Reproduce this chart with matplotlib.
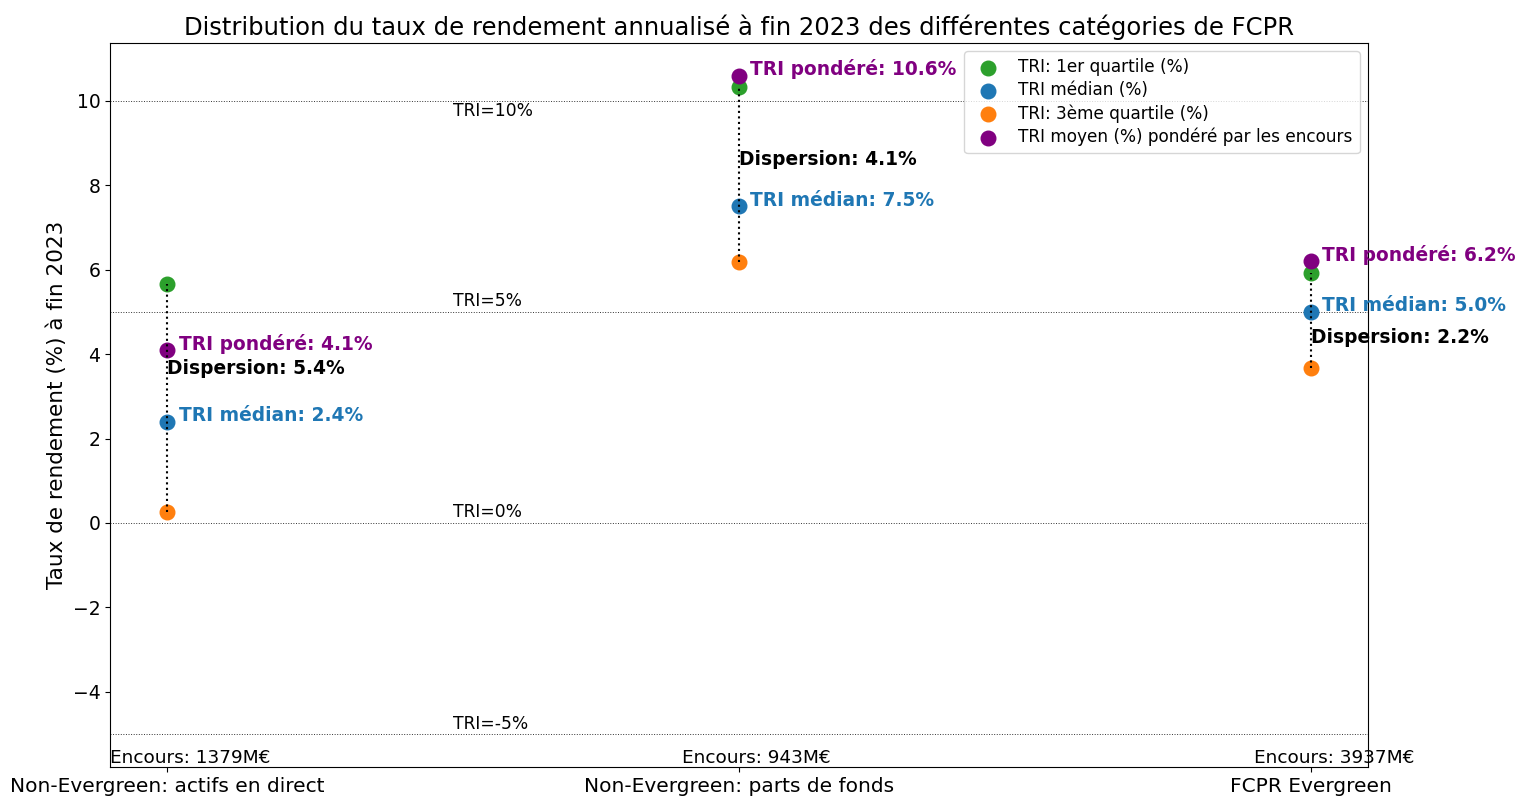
import matplotlib
matplotlib.use('Agg')
import matplotlib.pyplot as plt
import numpy as np

categories = ['Non-Evergreen: actifs en direct', 'Non-Evergreen: parts de fonds', 'FCPR Evergreen']
encours = [1379, 943, 3937]
q1 = [5.65, 10.32, 5.92]
median = [2.4, 7.5, 5.0]
q3 = [0.27, 6.18, 3.68]
weighted = [4.1, 10.6, 6.2]
dispersion = [5.4, 4.1, 2.2]
ref_levels = [10, 5, 0, -5]

# y of the "Dispersion" labels, as placed in the original
disp_label_y = [3.65, 8.6, 4.4]

fig = plt.figure(figsize=(15.17, 7.96), dpi=100)
ax = fig.add_axes([110 / 1517, 29 / 796, 1258 / 1517, 724 / 796])

x = np.arange(len(categories))
ax.scatter(x, q1, s=110, color='tab:green', label='TRI: 1er quartile (%)', zorder=3)
ax.scatter(x, median, s=110, color='tab:blue', label='TRI médian (%)', zorder=3)
ax.scatter(x, q3, s=110, color='tab:orange', label='TRI: 3ème quartile (%)', zorder=3)
ax.scatter(x, weighted, s=110, color='purple', label='TRI moyen (%) pondéré par les encours', zorder=3)

for i in x:
    ax.plot([i, i], [q3[i], q1[i]], color='black', linestyle=':', linewidth=1.5, zorder=4)
    ax.text(i + 0.02, weighted[i] + 0.15, 'TRI pondéré: {:.1f}%'.format(weighted[i]),
            color='purple', fontsize=13.4, fontweight='bold', va='center', ha='left')
    ax.text(i + 0.02, median[i] + 0.15, 'TRI médian: {:.1f}%'.format(median[i]),
            color='tab:blue', fontsize=13.4, fontweight='bold', va='center', ha='left')
    ax.text(i, disp_label_y[i], 'Dispersion: {:.1f}%'.format(dispersion[i]),
            color='black', fontsize=13.4, fontweight='bold', va='center', ha='left')
    ax.text(i - 0.1, -5.77, 'Encours: {}M€'.format(encours[i]),
            fontsize=13.3, va='bottom', ha='left')

for lvl in ref_levels:
    ax.axhline(lvl, color='black', linestyle=':', linewidth=0.7, alpha=0.8, zorder=1)
    if lvl == 10:
        ax.text(0.5, lvl - 0.25, 'TRI={}%'.format(lvl), fontsize=12.3, va='center', ha='left')
    else:
        ax.text(0.5, lvl + 0.25, 'TRI={}%'.format(lvl), fontsize=12.3, va='center', ha='left')

ax.set_xlim(-0.1, 2.1)
ax.set_ylim(-5.78, 11.37)
ax.set_xticks(x)
ax.set_xticklabels(categories, fontsize=14.5)
ax.tick_params(axis='y', labelsize=13.5)
ax.set_ylabel('Taux de rendement (%) à fin 2023', fontsize=15.5)
ax.set_title('Distribution du taux de rendement annualisé à fin 2023 des différentes catégories de FCPR',
             fontsize=17.5)
ax.legend(loc='upper right', fontsize=12.2, labelspacing=0.3)

fig.savefig('out.png', dpi=100)
